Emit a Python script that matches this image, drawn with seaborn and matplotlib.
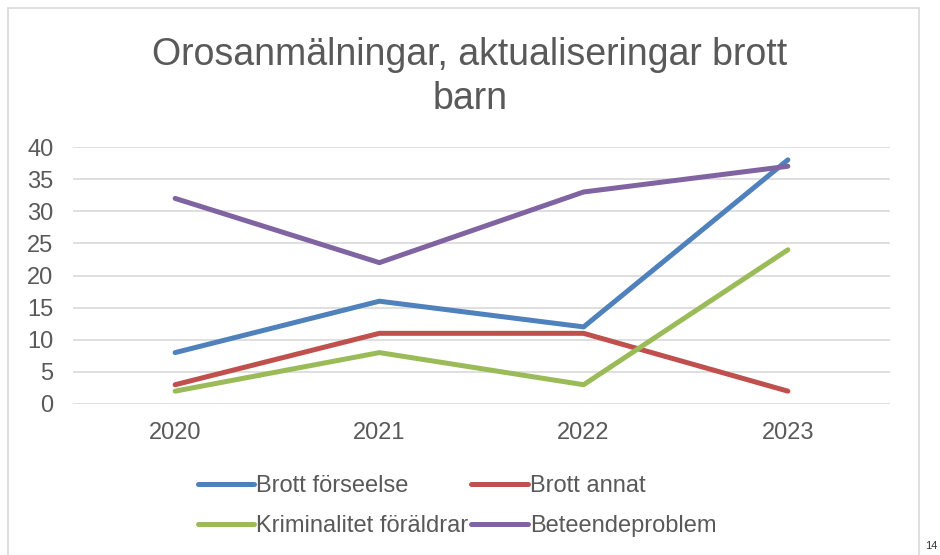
import matplotlib
matplotlib.use("Agg")
import matplotlib.pyplot as plt
from matplotlib.patches import Rectangle
from matplotlib.lines import Line2D
import seaborn as sns
import pandas as pd

years = ["2020", "2021", "2022", "2023"]
series_names = ["Brott förseelse", "Brott annat", "Kriminalitet föräldrar", "Beteendeproblem"]
brott_forseelse = [8, 16, 12, 38]
brott_annat = [3, 11, 11, 2]
kriminalitet_foraldrar = [2, 8, 3, 24]
beteendeproblem = [32, 22, 33, 37]
yticks = [0, 5, 10, 15, 20, 25, 30, 35, 40]
title = "Orosanmälningar, aktualiseringar brott\nbarn"
colors = ["#4F81BD", "#C0504D", "#9BBB59", "#8064A2"]

values = [brott_forseelse, brott_annat, kriminalitet_foraldrar, beteendeproblem]
rows = []
for name, vals in zip(series_names, values):
    for y, v in zip(years, vals):
        rows.append({"År": y, "Antal": v, "Serie": name})
df = pd.DataFrame(rows)

sns.set_theme(style="white")
plt.rcParams['font.family'] = ['Liberation Sans', 'DejaVu Sans']
text_color = "#595959"

fig = plt.figure(figsize=(9.4, 5.55), dpi=100)
ax = fig.add_axes([73/940, 1 - 404/555, (890 - 73)/940, (404 - 147)/555])

sns.lineplot(data=df, x="År", y="Antal", hue="Serie", hue_order=series_names,
             palette=colors, linewidth=3.6, ax=ax, legend=False,
             solid_capstyle="round", sort=False)

ax.set_xlim(-0.5, 3.5)
ax.set_ylim(0, 40)
ax.set_yticks(yticks)
ax.yaxis.grid(True, color="#D9D9D9", linewidth=1.2)
ax.set_axisbelow(True)
for s in ax.spines.values():
    s.set_visible(False)
ax.set_xlabel("")
ax.set_ylabel("")
ax.tick_params(axis="both", labelsize=17, colors=text_color, length=0)
ax.tick_params(axis="x", pad=13)
ax.tick_params(axis="y", pad=14)

fig.text(0.5, 1 - 77/555, title, ha="center", va="center", fontsize=27,
         color=text_color, linespacing=1.32)

# legend
handles = [Line2D([], [], color=c, linewidth=3.6, solid_capstyle="round") for c in colors]
order = [0, 2, 1, 3]
fig.legend([handles[i] for i in order], [series_names[i] for i in order],
           ncol=2, loc="center", bbox_to_anchor=(457/940, 1 - 506/555),
           frameon=False, fontsize=17, labelcolor=text_color,
           handlelength=2.4, handletextpad=0.08, columnspacing=0.12,
           labelspacing=0.76)

# outer frame
fig.patches.append(Rectangle((8/940, -0.05), (919 - 8)/940, 1.05 - 8/555,
                             transform=fig.transFigure, fill=False,
                             edgecolor="#D9D9D9", linewidth=1.2))
fig.text(925/940, 1 - 546/555, "14", fontsize=8, color="#333333", va="center", ha="left")

fig.savefig("out.png", dpi=100)
